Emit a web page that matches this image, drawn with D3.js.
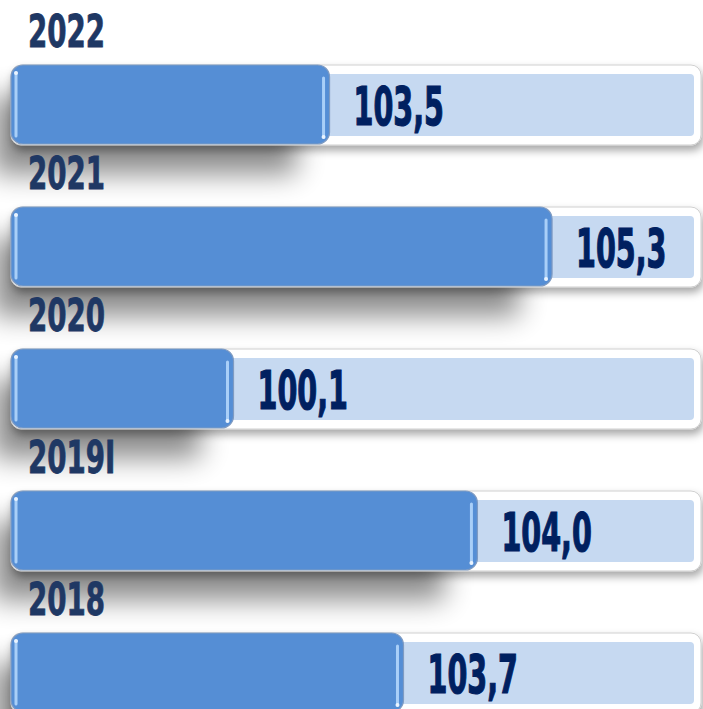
<!DOCTYPE html>
<html lang="es">
<head>
  <meta charset="UTF-8">
  <title>Índice por año</title>
  <script src="https://d3js.org/d3.v7.min.js"></script>
  <style>
    body {
      margin: 0;
      background: #fff;
    }
    svg {
      display: block;
    }
    .year {
      font-family: "DejaVu Sans Condensed", "Liberation Sans Narrow", sans-serif;
      font-weight: bold;
      font-size: 44px;
      fill: #1f3864;
      stroke: #1f3864;
      stroke-width: 0.8px;
    }
    .value {
      font-family: "DejaVu Sans Condensed", "Liberation Sans Narrow", sans-serif;
      font-weight: bold;
      font-size: 53px;
      fill: #002060;
      stroke: #002060;
      stroke-width: 1.2px;
    }
  </style>
</head>
<body>
  <div id="chart"></div>

  <script>
    const years = ["2022", "2021", "2020", "2019I", "2018"];
    const values = [103.5, 105.3, 100.1, 104.0, 103.7];
    // length of the dark bar as a share of the track
    const fillShare = [0.461, 0.783, 0.322, 0.675, 0.568];

    const width = 703, height = 709;
    const barH = 79, barTop = 65;

    const data = years.map((yr, i) => ({ year: yr, value: values[i], share: fillShare[i] }));

    const y = d3.scaleBand().domain(years).range([0, 710]);
    const x = d3.scaleLinear().domain([0, 1]).range([11, 702]);
    const fmt = v => d3.format(".1f")(v).replace(".", ",");

    const svg = d3.select("#chart")
      .append("svg")
      .attr("width", width)
      .attr("height", height);

    const defs = svg.append("defs");
    defs.append("filter")
      .attr("id", "blur")
      .attr("x", "-30%").attr("y", "-100%")
      .attr("width", "160%").attr("height", "300%")
      .append("feGaussianBlur")
      .attr("stdDeviation", 14);

    defs.append("filter")
      .attr("id", "trackShadow")
      .attr("x", "-5%").attr("y", "-20%")
      .attr("width", "110%").attr("height", "160%")
      .append("feDropShadow")
      .attr("dx", 2).attr("dy", 5)
      .attr("stdDeviation", 4)
      .attr("flood-color", "#000")
      .attr("flood-opacity", 0.35);

    const row = svg.selectAll("g.row")
      .data(data)
      .enter()
      .append("g")
      .attr("class", "row")
      .attr("transform", d => `translate(0, ${y(d.year)})`);

    // soft shadow under the dark bar
    row.append("rect")
      .attr("x", x(0) - 18)
      .attr("y", barTop + 30)
      .attr("width", d => x(d.share) - x(0) - 15)
      .attr("height", barH)
      .attr("fill", "#000")
      .attr("opacity", 0.45)
      .attr("filter", "url(#blur)");

    // white track
    row.append("rect")
      .attr("x", x(0))
      .attr("y", barTop)
      .attr("width", x(1) - x(0) - 1)
      .attr("height", barH + 1)
      .attr("rx", 10)
      .attr("fill", "#fff")
      .attr("stroke", "#cfcfcf")
      .attr("filter", "url(#trackShadow)");

    // light inner fill
    row.append("rect")
      .attr("x", d => x(d.share) - 6)
      .attr("y", barTop + 9)
      .attr("width", d => x(1) - 8 - (x(d.share) - 6))
      .attr("height", barH - 17)
      .attr("rx", 4)
      .attr("fill", "#c6d9f1");

    // dark bar
    row.append("rect")
      .attr("x", x(0))
      .attr("y", barTop)
      .attr("width", d => x(d.share) - x(0))
      .attr("height", barH)
      .attr("rx", 12)
      .attr("fill", "#558ed5")
      .attr("stroke", "#7f9bc2")
      .attr("stroke-width", 1.2);

    // glossy highlights at both ends
    row.append("line")
      .attr("x1", x(0) + 5).attr("x2", x(0) + 5)
      .attr("y1", barTop + 8).attr("y2", barTop + barH - 8)
      .attr("stroke", "#a9cff8")
      .attr("stroke-width", 3)
      .attr("stroke-linecap", "round");
    row.append("circle")
      .attr("cx", x(0) + 5).attr("cy", barTop + 8)
      .attr("r", 2).attr("fill", "#eaf4ff");

    row.append("line")
      .attr("x1", d => x(d.share) - 6).attr("x2", d => x(d.share) - 6)
      .attr("y1", barTop + 13).attr("y2", barTop + barH - 7)
      .attr("stroke", "#a9cff8")
      .attr("stroke-width", 3)
      .attr("stroke-linecap", "round");
    row.append("circle")
      .attr("cx", d => x(d.share) - 6).attr("cy", barTop + barH - 7)
      .attr("r", 2).attr("fill", "#eaf4ff");

    // year labels
    row.append("text")
      .attr("class", "year")
      .attr("transform", `translate(28, 47) scale(0.7, 1)`)
      .text(d => d.year);

    // value labels
    row.append("text")
      .attr("class", "value")
      .attr("transform", d => `translate(${x(d.share) + 24}, ${barTop + 60}) scale(0.6, 1)`)
      .text(d => fmt(d.value));
  </script>
</body>
</html>
